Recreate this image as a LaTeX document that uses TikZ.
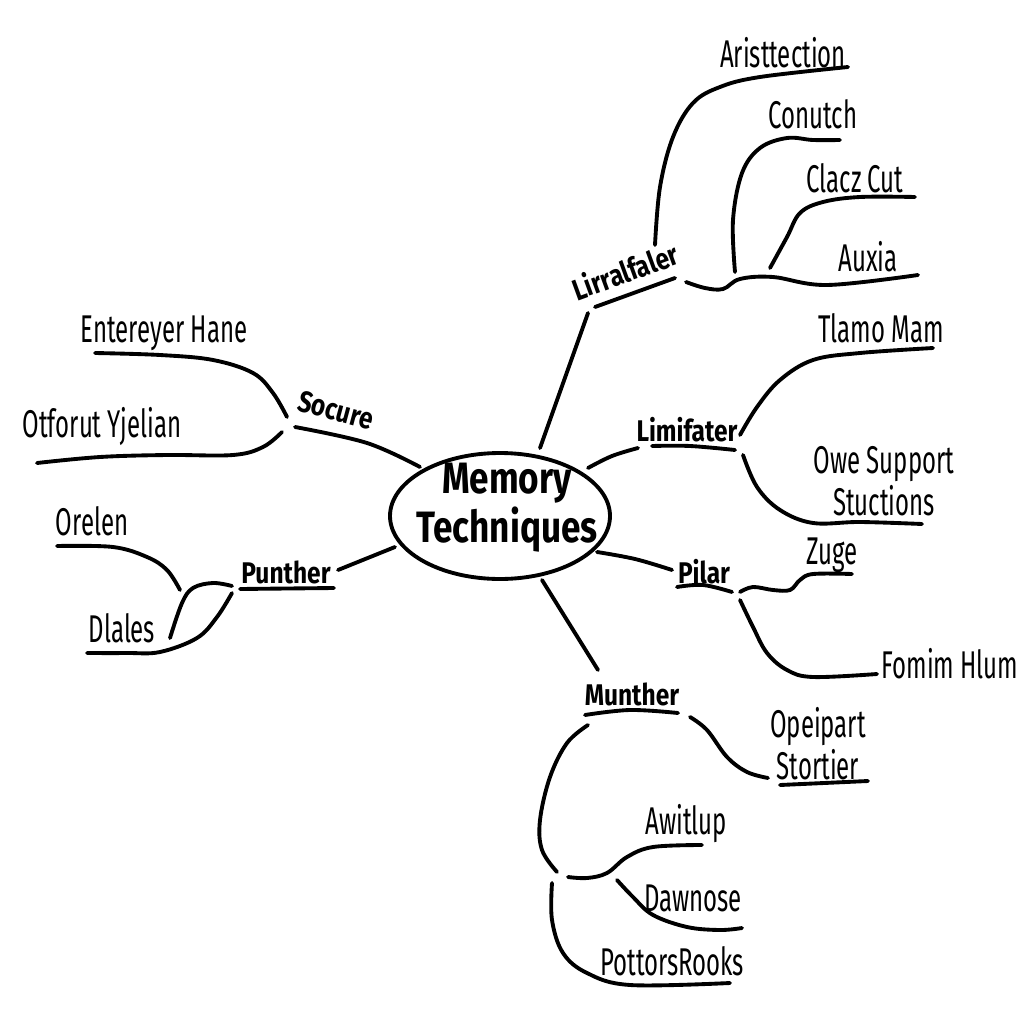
\documentclass[tikz,border=0pt]{standalone}
\usepackage{fontspec}
\setmainfont{Fira Sans}
\newfontfamily\handfont[FakeStretch=0.62]{Fira Sans}
\newfontfamily\labfont[FakeStretch=0.82]{Fira Sans}
\newfontfamily\cenfont[FakeStretch=0.8]{Fira Sans}
\usetikzlibrary{shapes.geometric}
\begin{document}
\begin{tikzpicture}[x=0.1mm,y=-0.1mm,
  conn/.style={line width=1.1pt, line cap=round, line join=round},
  sm/.style={smooth, tension=0.6},
  leaf/.style={font=\handfont\fontsize{11}{10}\selectfont, inner sep=0, align=center},
  lab/.style={font=\labfont\bfseries\fontsize{8.5}{10}\selectfont, inner sep=0},
  central/.style={font=\cenfont\bfseries\fontsize{12.5}{10}\selectfont, inner sep=0, align=center}]
\useasboundingbox[fill=white] (0,0) rectangle (1024,1024);

% centre
\node[ellipse, draw, line width=1.1pt, minimum width=22mm, minimum height=12.6mm, inner sep=0] (mem) at (500,516) {};
\node[central] (memtxt) at (507,508) {Memory\\Techniques};

% ---- Lirralfaler (top right)
\node[lab, rotate=20] (lirr) at (625,271) {Lirralfaler};
\node[leaf] (arist) at (783,53) {Aristtection};
\node[leaf] (conu) at (813,114) {Conutch};
\node[leaf] (clacz) at (855,178) {Clacz Cut};
\node[leaf] (auxia) at (868,257) {Auxia};
\coordinate (lirrhub) at (686,282);
\draw[conn] (540,448) -- (588,313);
\draw[conn] (595,307) -- (675,278);
\draw[conn] plot[sm] coordinates {(lirrhub) (705,288) (723,289) (740,279) (773,277) (827,285) (918,275)};
\draw[conn] plot[sm] coordinates {(655,245) (660,187) (673,137) (693,103) (720,87) (760,77) (848,67)};
\draw[conn] plot[sm] coordinates {(735,272) (733,220) (742,173) (760,148) (787,138) (813,140) (840,140)};
\draw[conn] plot[sm] coordinates {(770,268) (787,237) (800,213) (823,202) (860,197) (915,197)};

% ---- Limifater
\node[lab] (limi) at (687,430) {Limifater};
\node[leaf] (tlamo) at (881,328) {Tlamo Mam};
\node[leaf] (owe) at (884,481) {Owe Support\\Stuctions};
\draw[conn] plot[sm] coordinates {(588,468) (612,456) (638,448)};
\draw[conn] plot[sm] coordinates {(652,446) (690,446) (735,450)};
\draw[conn] plot[sm] coordinates {(740,435) (757,407) (780,380) (813,360) (860,353) (933,348)};
\draw[conn] plot[sm] coordinates {(743,455) (757,487) (780,510) (813,523) (860,522) (922,524)};

% ---- Pilar
\node[lab] (pilar) at (704,572) {Pilar};
\node[leaf] (zuge) at (832,555) {Zuge};
\node[leaf] (fomim) at (950,664) {Fomim Hlum};
\draw[conn] plot[sm] coordinates {(597,552) (635,559) (672,570)};
\draw[conn] plot[sm] coordinates {(677,587) (703,585) (732,592)};
\draw[conn] plot[sm] coordinates {(740,592) (753,587) (773,590) (790,590) (800,580) (813,574) (852,574)};
\draw[conn] plot[sm] coordinates {(740,600) (753,627) (767,653) (787,670) (813,677) (877,674)};

% ---- Munther
\node[lab] (munt) at (632,694) {Munther};
\node[leaf] (opei) at (818,744) {Opeipart\\Stortier};
\node[leaf] (awit) at (686,824) {Awitlup};
\node[leaf] (dawn) at (693,898) {Dawnose};
\node[leaf] (pott) at (672,961) {PottorsRooks};
\draw[conn] (542,580) -- (598,670);
\draw[conn] plot[sm] coordinates {(585,715) (630,710) (678,713)};
\draw[conn] plot[sm] coordinates {(690,717) (707,730) (727,757) (747,772) (768,778)};
\draw[conn] (780,785) -- (868,781);
\draw[conn] plot[sm] coordinates {(588,725) (567,743) (550,777) (540,820) (542,850) (557,872)};
\draw[conn] plot[sm] coordinates {(568,877) (587,878) (607,873) (627,857) (653,847) (702,845)};
\draw[conn] plot[sm] coordinates {(617,880) (633,897) (653,915) (687,927) (720,930) (742,928)};
\draw[conn] plot[sm] coordinates {(552,883) (552,920) (563,953) (587,973) (630,985) (730,983)};

% ---- Socure (left)
\node[lab, rotate=-15] (socu) at (336,410) {Socure};
\node[leaf] (ente) at (164,333) {Entereyer Hane};
\node[leaf] (otfo) at (102,427) {Otforut Yjelian};
\draw[conn] plot[sm] coordinates {(420,467) (367,443) (295,427)};
\draw[conn] plot[sm] coordinates {(287,417) (273,393) (253,373) (213,360) (160,355) (95,353)};
\draw[conn] plot[sm] coordinates {(282,432) (263,447) (233,455) (167,455) (100,457) (37,463)};

% ---- Punther
\node[lab] (punt) at (286,572) {Punther};
\node[leaf] (orel) at (92,521) {Orelen};
\node[leaf] (dlal) at (122,628) {Dlales};
\draw[conn] (395,547) -- (338,570);
\draw[conn] (240,589) -- (334,588);
\draw[conn] plot[sm] coordinates {(180,590) (167,570) (147,557) (113,547) (57,546)};
\draw[conn] plot[sm] coordinates {(232,586) (213,583) (193,588) (182,603) (170,638)};
\draw[conn] plot[sm] coordinates {(232,593) (217,617) (197,638) (160,652) (127,653) (87,653)};
\end{tikzpicture}
\end{document}
